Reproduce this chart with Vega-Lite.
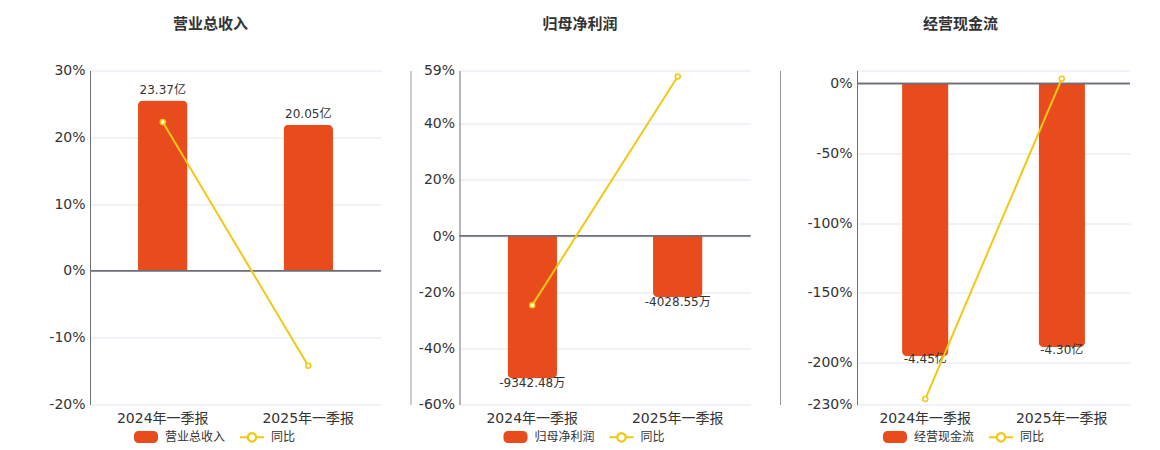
{
  "$schema": "https://vega.github.io/schema/vega-lite/v6.json",
  "padding": {"left": 48, "top": 16.5, "right": 5, "bottom": 5},
  "spacing": 28.5,
  "resolve": {"scale": {"color": "independent"}, "legend": {"color": "independent"}},
  "config": {
    "font": "DejaVu Sans",
    "view": {"stroke": null},
    "axis": {"labelFont": "DejaVu Sans, Noto Sans CJK SC", "labelColor": "#333", "labelFontSize": 14},
    "axisX": {"title": null, "labelAngle": 0, "domain": false, "ticks": false, "labelPadding": 7},
    "text": {"font": "DejaVu Sans, Noto Sans CJK SC"},
    "title": {"font": "Noto Sans CJK SC", "fontSize": 15, "fontWeight": "bold", "color": "#333", "anchor": "middle"},
    "legend": {"labelFont": "Noto Sans CJK SC"}
  },
  "hconcat": [
    {
      "width": 291,
      "height": 334,
      "title": {"text": "营业总收入", "dx": -25, "offset": 32},
      "data": {"values": [
        {"period": "2024年一季报", "amount": 23.37, "label": "23.37亿", "yoy": 22.29},
        {"period": "2025年一季报", "amount": 20.05, "label": "20.05亿", "yoy": -14.21}
      ]},
      "layer": [
        {
          "layer": [
            {
              "mark": {"type": "bar", "width": {"band": 0.34}, "cornerRadiusTopLeft": 5, "cornerRadiusTopRight": 5},
              "encoding": {
                "x": {"field": "period", "type": "nominal", "sort": null, "scale": {"paddingInner": 0, "paddingOuter": 0}},
                "y": {"field": "amount", "type": "quantitative", "scale": {"domain": [-18.37, 27.49], "nice": false, "zero": false}, "axis": null},
                "color": {"datum": "营业总收入",
                  "scale": {"domain": ["营业总收入", "同比"], "range": ["#E84C1D", "#F2C811"]},
                  "legend": {"orient": "none", "legendX": 43, "legendY": 353, "direction": "horizontal", "title": null,
                    "symbolSize": 576, "labelFontSize": 12, "labelColor": "#333", "labelOffset": 6, "columnPadding": 10,
                    "encode": {"symbols": {"update": {
                      "shape": {"signal": "datum.value === '同比' ? 'M-1,0L-0.36,0M0.36,0L1,0M0.36,0A0.36,0.36,0,1,1,-0.36,0A0.36,0.36,0,1,1,0.36,0ZM0.34,0A0.34,0.34,0,1,0,-0.34,0A0.34,0.34,0,1,0,0.34,0Z' : 'M-0.62,-0.42H0.62A0.3,0.3,0,0,1,0.92,-0.12V0.12A0.3,0.3,0,0,1,0.62,0.42H-0.62A0.3,0.3,0,0,1,-0.92,0.12V-0.12A0.3,0.3,0,0,1,-0.62,-0.42Z'"},
                      "stroke": {"signal": "datum.value === '同比' ? '#F2C811' : '#E84C1D'"},
                      "strokeWidth": {"value": 2},
                      "opacity": {"value": 1}
                    }}}}}
              }
            },
            {
              "mark": {"type": "rule", "color": "#6E7079", "strokeWidth": 1.5},
              "encoding": {"y": {"datum": 0, "type": "quantitative"}}
            },
            {
              "mark": {"type": "text", "baseline": "bottom", "dy": -3.5, "fontSize": 12, "color": "#333"},
              "encoding": {
                "x": {"field": "period", "type": "nominal", "sort": null},
                "y": {"field": "amount", "type": "quantitative"},
                "text": {"field": "label"}
              }
            }
          ]
        },
        {
          "mark": {"type": "line", "strokeWidth": 2, "point": {"filled": false, "fill": "white", "size": 25, "strokeWidth": 1.5}},
          "encoding": {
            "x": {"field": "period", "type": "nominal", "sort": null},
            "y": {"field": "yoy", "type": "quantitative", "scale": {"domain": [-20, 30], "nice": false},
              "axis": {"orient": "left", "title": null, "values": [-20, -10, 0, 10, 20, 30], "labelExpr": "datum.value + '%'",
                "grid": true, "gridColor": "#E0E6F1", "domainColor": "#6E7079", "ticks": false, "labelPadding": 5}},
            "color": {"datum": "同比"}
          }
        }
      ],
      "resolve": {"scale": {"y": "independent"}}
    },
    {
      "width": 291,
      "height": 334,
      "title": {"text": "归母净利润", "dx": -25, "offset": 32},
      "data": {"values": [
        {"period": "2024年一季报", "amount": -9342.48, "label": "-9342.48万", "yoy": -24.6},
        {"period": "2025年一季报", "amount": -4028.55, "label": "-4028.55万", "yoy": 56.88}
      ]},
      "layer": [
        {
          "layer": [
            {
              "mark": {"type": "bar", "width": {"band": 0.34}, "cornerRadiusBottomLeft": 5, "cornerRadiusBottomRight": 5},
              "encoding": {
                "x": {"field": "period", "type": "nominal", "sort": null, "scale": {"paddingInner": 0, "paddingOuter": 0}},
                "y": {"field": "amount", "type": "quantitative", "scale": {"domain": [-11046, 10810], "nice": false, "zero": false},
                  "axis": {"orient": "left", "offset": 49, "title": null, "labels": false, "ticks": false, "grid": false, "domainColor": "#999"}},
                "color": {"datum": "归母净利润",
                  "scale": {"domain": ["归母净利润", "同比"], "range": ["#E84C1D", "#F2C811"]},
                  "legend": {"orient": "none", "legendX": 43, "legendY": 353, "direction": "horizontal", "title": null,
                    "symbolSize": 576, "labelFontSize": 12, "labelColor": "#333", "labelOffset": 6, "columnPadding": 10,
                    "encode": {"symbols": {"update": {
                      "shape": {"signal": "datum.value === '同比' ? 'M-1,0L-0.36,0M0.36,0L1,0M0.36,0A0.36,0.36,0,1,1,-0.36,0A0.36,0.36,0,1,1,0.36,0ZM0.34,0A0.34,0.34,0,1,0,-0.34,0A0.34,0.34,0,1,0,0.34,0Z' : 'M-0.62,-0.42H0.62A0.3,0.3,0,0,1,0.92,-0.12V0.12A0.3,0.3,0,0,1,0.62,0.42H-0.62A0.3,0.3,0,0,1,-0.92,0.12V-0.12A0.3,0.3,0,0,1,-0.62,-0.42Z'"},
                      "stroke": {"signal": "datum.value === '同比' ? '#F2C811' : '#E84C1D'"},
                      "strokeWidth": {"value": 2},
                      "opacity": {"value": 1}
                    }}}}}
              }
            },
            {
              "mark": {"type": "rule", "color": "#6E7079", "strokeWidth": 1.5},
              "encoding": {"y": {"datum": 0, "type": "quantitative"}}
            },
            {
              "mark": {"type": "text", "baseline": "top", "dy": 0, "fontSize": 12, "color": "#333"},
              "encoding": {
                "x": {"field": "period", "type": "nominal", "sort": null},
                "y": {"field": "amount", "type": "quantitative"},
                "text": {"field": "label"}
              }
            }
          ]
        },
        {
          "mark": {"type": "line", "strokeWidth": 2, "point": {"filled": false, "fill": "white", "size": 25, "strokeWidth": 1.5}},
          "encoding": {
            "x": {"field": "period", "type": "nominal", "sort": null},
            "y": {"field": "yoy", "type": "quantitative", "scale": {"domain": [-60, 59], "nice": false},
              "axis": {"orient": "left", "title": null, "values": [-60, -40, -20, 0, 20, 40, 59], "labelExpr": "datum.value + '%'",
                "grid": true, "gridColor": "#E0E6F1", "domainColor": "#6E7079", "ticks": false, "labelPadding": 5}},
            "color": {"datum": "同比"}
          }
        }
      ],
      "resolve": {"scale": {"y": "independent"}}
    },
    {
      "width": 273,
      "height": 334,
      "title": {"text": "经营现金流", "dx": -33, "offset": 39},
      "data": {"values": [
        {"period": "2024年一季报", "amount": -4.45, "label": "-4.45亿", "yoy": -226.1},
        {"period": "2025年一季报", "amount": -4.30, "label": "-4.30亿", "yoy": 3.37}
      ]},
      "layer": [
        {
          "layer": [
            {
              "mark": {"type": "bar", "width": {"band": 0.34}, "cornerRadiusBottomLeft": 5, "cornerRadiusBottomRight": 5},
              "encoding": {
                "x": {"field": "period", "type": "nominal", "sort": null, "scale": {"paddingInner": 0, "paddingOuter": 0}},
                "y": {"field": "amount", "type": "quantitative", "scale": {"domain": [-5.239, 0.2125], "nice": false, "zero": false},
                  "axis": {"orient": "left", "offset": 77, "title": null, "labels": false, "ticks": false, "grid": false, "domainColor": "#999"}},
                "color": {"datum": "经营现金流",
                  "scale": {"domain": ["经营现金流", "同比"], "range": ["#E84C1D", "#F2C811"]},
                  "legend": {"orient": "none", "legendX": 25, "legendY": 353, "direction": "horizontal", "title": null,
                    "symbolSize": 576, "labelFontSize": 12, "labelColor": "#333", "labelOffset": 6, "columnPadding": 10,
                    "encode": {"symbols": {"update": {
                      "shape": {"signal": "datum.value === '同比' ? 'M-1,0L-0.36,0M0.36,0L1,0M0.36,0A0.36,0.36,0,1,1,-0.36,0A0.36,0.36,0,1,1,0.36,0ZM0.34,0A0.34,0.34,0,1,0,-0.34,0A0.34,0.34,0,1,0,0.34,0Z' : 'M-0.62,-0.42H0.62A0.3,0.3,0,0,1,0.92,-0.12V0.12A0.3,0.3,0,0,1,0.62,0.42H-0.62A0.3,0.3,0,0,1,-0.92,0.12V-0.12A0.3,0.3,0,0,1,-0.62,-0.42Z'"},
                      "stroke": {"signal": "datum.value === '同比' ? '#F2C811' : '#E84C1D'"},
                      "strokeWidth": {"value": 2},
                      "opacity": {"value": 1}
                    }}}}}
              }
            },
            {
              "mark": {"type": "rule", "color": "#6E7079", "strokeWidth": 1.5},
              "encoding": {"y": {"datum": 0, "type": "quantitative"}}
            },
            {
              "mark": {"type": "text", "baseline": "top", "dy": -2, "fontSize": 12, "color": "#333"},
              "encoding": {
                "x": {"field": "period", "type": "nominal", "sort": null},
                "y": {"field": "amount", "type": "quantitative"},
                "text": {"field": "label"}
              }
            }
          ]
        },
        {
          "mark": {"type": "line", "strokeWidth": 2, "point": {"filled": false, "fill": "white", "size": 25, "strokeWidth": 1.5}},
          "encoding": {
            "x": {"field": "period", "type": "nominal", "sort": null},
            "y": {"field": "yoy", "type": "quantitative", "scale": {"domain": [-230, 9.3], "nice": false},
              "axis": {"orient": "left", "title": null, "values": [-230, -200, -150, -100, -50, 0, 9.3], "labelExpr": "datum.value > 1 ? '' : datum.value + '%'",
                "grid": true, "gridColor": "#E0E6F1", "domainColor": "#6E7079", "ticks": false, "labelPadding": 5}},
            "color": {"datum": "同比"}
          }
        }
      ],
      "resolve": {"scale": {"y": "independent"}}
    }
  ]
}
